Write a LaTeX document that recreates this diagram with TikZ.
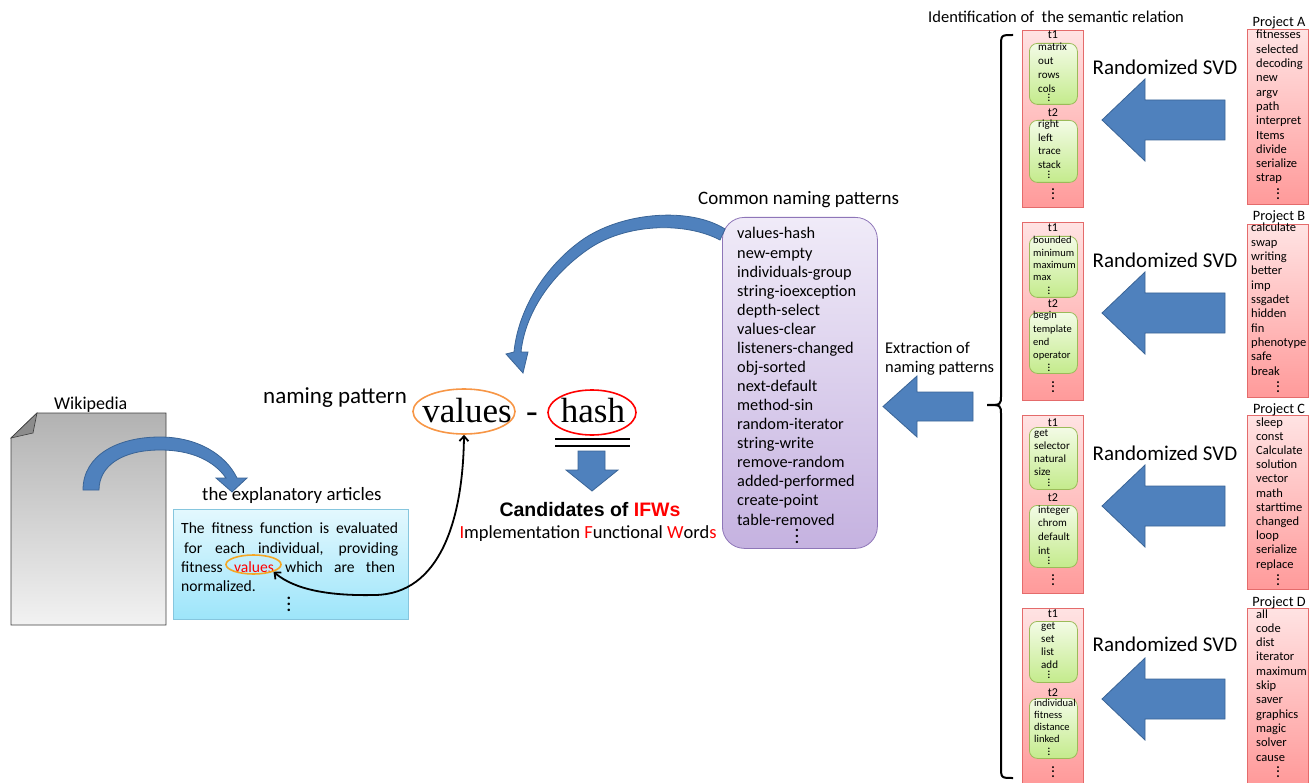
\documentclass[tikz,border=0pt]{standalone}
\usepackage{fontspec}
\setmainfont{Carlito}
\newfontfamily\serifbig{Liberation Serif}
\newfontfamily\candfont{Liberation Sans}
\usetikzlibrary{arrows.meta,shapes.geometric}
\newcommand{\setfs}[1]{\fontsize{#1}{#1}\selectfont}
\newcommand{\vdt}[1]{\vbox{\baselineskip=#1pt\lineskiplimit=-10pt\lineskip=0pt\hbox{.}\hbox{.}\hbox{.}}}
\definecolor{arrblue}{HTML}{4F81BD}
\definecolor{arrbord}{HTML}{3A6496}
\definecolor{redtop}{HTML}{FFE3E3}
\definecolor{redbot}{HTML}{FF9A9A}
\definecolor{redbord}{HTML}{E46B6B}
\definecolor{grntop}{HTML}{F3FBE6}
\definecolor{grnbot}{HTML}{C4EB8C}
\definecolor{grnbord}{HTML}{9BBB59}
\definecolor{purtop}{HTML}{F0EBF8}
\definecolor{purbot}{HTML}{C5B2E0}
\definecolor{purbord}{HTML}{8E76B8}
\definecolor{cyantop}{HTML}{E3F8FE}
\definecolor{cyanbot}{HTML}{9DE5FA}
\definecolor{cyanbord}{HTML}{86C6DE}
\definecolor{doctop}{HTML}{B2B2B2}
\definecolor{docbot}{HTML}{F2F2F2}
\definecolor{valorange}{HTML}{F79646}
\definecolor{goldor}{HTML}{F5A623}
\tikzset{
  txt/.style={inner sep=0pt, anchor=base west},
  ctxt/.style={inner sep=0pt, anchor=base},
  redbox/.style={draw=redbord, line width=0.8pt, top color=redtop, bottom color=redbot, inner sep=0pt, anchor=north west},
  grnbox/.style={draw=grnbord, line width=0.8pt, top color=grntop, bottom color=grnbot, rounded corners=8pt, inner sep=0pt, anchor=north west},
  bluearr/.style={fill=arrblue, draw=arrbord, line width=0.8pt},
  pw/.style={txt, font=\setfs{12.5}},
  tw/.style={txt, font=\setfs{11}},
  tws/.style={txt, font=\setfs{10.5}},
  tlab/.style={ctxt, font=\setfs{12}},
  sdots/.style={inner sep=0pt, font=\setfs{10}\bfseries},
  cdots/.style={inner sep=0pt, font=\setfs{13}\bfseries},
}
\begin{document}
\begin{tikzpicture}[x=1pt,y=-1pt]
\useasboundingbox (0,0) rectangle (1313,783);

% ---------------- Wikipedia document ----------------
\shade[top color=doctop, bottom color=docbot, draw=black!75, line width=0.8pt]
  (37,413) -- (166,413) -- (166,625) -- (11,625) -- (11,438) -- cycle;
\filldraw[fill=black!45, draw=black!75, line width=0.6pt] (11,438) -- (37,413) -- (33,433) -- cycle;
\node[txt, font=\setfs{18}] (wiki) at (54,409) {Wikipedia};
% blue curved arrow from Wikipedia to the articles
\filldraw[bluearr] (83,490) .. controls (83,455) and (118,437) .. (160,437)
  .. controls (198,437) and (226,455) .. (237,478) -- (247,478) -- (232,492) -- (216,478) -- (226,478)
  .. controls (214,461) and (192,450) .. (160,450)
  .. controls (122,450) and (99,466) .. (99,490) -- cycle;

% ---------------- explanatory articles ----------------
\node[txt, font=\setfs{18.8}] (explab) at (202,500) {the explanatory articles};
\node[draw=cyanbord, line width=0.8pt, top color=cyantop, bottom color=cyanbot, inner sep=0pt,
  anchor=north west, minimum width=235pt, minimum height=110pt] (expbox) at (173,509) {};
\node[txt, font=\setfs{15.6}] (el1) at (181,533) {\makebox[217pt][s]{The fitness function is evaluated}};
\node[txt, font=\setfs{15.6}] (el2) at (184,553) {\makebox[214pt][s]{for each individual, providing}};
\node[txt, font=\setfs{15.6}] (el3) at (181,572) {\makebox[214pt][s]{fitness \textcolor{red}{values} which are then}};
\node[txt, font=\setfs{15.6}] (el4) at (181,591) {normalized.};
\node[inner sep=0pt, font=\setfs{17}\bfseries] (edots) at (289,604) {\vdt{6}};
\node[ellipse, draw=goldor, line width=1.6pt, minimum width=55pt, minimum height=19pt, inner sep=0pt] (valw) at (253.5,564.5) {};

% ---------------- naming pattern ----------------
\node[txt, font=\setfs{23}] (nplab) at (263,403) {naming pattern};
\node[ellipse, draw=valorange, line width=1.6pt, minimum width=102pt, minimum height=45pt, inner sep=0pt] (valsE) at (464,411.5) {};
\node[ctxt, font=\serifbig\setfs{35}] (vals) at (467,422) {values};
\node[ctxt, font=\serifbig\setfs{35}] (dash) at (532,422) {-};
\node[ellipse, draw=red, line width=1.6pt, minimum width=88pt, minimum height=45pt, inner sep=0pt] (hashE) at (592,412.5) {};
\node[ctxt, font=\serifbig\setfs{35}] (hash) at (593,422) {hash};
\draw[line width=2pt] (555,439) -- (630,439);
\draw[line width=2pt] (555,446) -- (630,446);
\filldraw[bluearr] (578,451) -- (605,451) -- (605,470) -- (618,470) -- (592,491) -- (566,470) -- (578,470) -- cycle;
\node[ctxt, font=\candfont\bfseries\setfs{19.5}] (cand) at (590,516) {Candidates of \textcolor{red}{IFWs}};
\node[ctxt, font=\setfs{18.5}] (ifw) at (588,538) {\textcolor{red}{I}mplementation \textcolor{red}{F}unctional \textcolor{red}{W}ord\textcolor{red}{s}};

% black double-headed curve between values occurrences
\draw[line width=1.8pt, {Straight Barb[length=5pt,width=9pt]}-{Straight Barb[length=5pt,width=9pt]}]
  (valsE.south) .. controls (463,520) and (440,594) .. (375,595)
  .. controls (330,596) and (295,590) .. (valw.south east);

% ---------------- common naming patterns ----------------
\node[txt, font=\setfs{19}] (cnp) at (698,205) {Common naming patterns};
\node[draw=purbord, line width=0.8pt, top color=purtop, bottom color=purbot, rounded corners=22pt,
  inner sep=0pt, anchor=north west, minimum width=155pt, minimum height=331pt] (pat) at (722,217) {};
\foreach \w [count=\i from 0] in {values-hash,new-empty,individuals-group,string-ioexception,depth-select,values-clear,listeners-changed,obj-sorted,next-default,method-sin,random-iterator,string-write,remove-random,added-performed,create-point,table-removed}
  \node[txt, font=\setfs{16.3}] (pl\i) at (737,239+19.07*\i) {\w};
\node[inner sep=0pt, font=\setfs{16}\bfseries] (pdots) at (797,536) {\vdt{6}};

% blue curved arrow from the pattern list to values
\filldraw[bluearr] (725,229) .. controls (690,207) and (625,212) .. (585,238)
  .. controls (545,265) and (518,310) .. (514,352) -- (506,354) -- (523,373) -- (528,352) -- (521,352)
  .. controls (525,314) and (550,275) .. (590,248)
  .. controls (628,223) and (686,222) .. (720,240) -- cycle;

% ---------------- extraction ----------------
\node[txt, font=\setfs{16.4}] (ex1) at (885,353) {Extraction of};
\node[txt, font=\setfs{16.4}] (ex2) at (885,372) {naming patterns};
\filldraw[bluearr] (883,406.5) -- (917,376) -- (917,392) -- (973,392) -- (973,421) -- (917,421) -- (917,437) -- cycle;

% brace
\draw[line width=2pt] (1013,35) .. controls (1001,35) .. (1001,47) -- (1001,395)
  .. controls (1001,405) .. (987,405) .. controls (1001,405) .. (1001,415) -- (1001,766)
  .. controls (1001,778) .. (1013,778);
\node[txt, font=\setfs{16.5}] (ident) at (928,23) {Identification of \ the semantic relation};

% ---------------- topic columns ----------------
\node[redbox, minimum width=61pt, minimum height=177pt] (colA) at (1022,30) {};
\node[redbox, minimum width=61pt, minimum height=178pt] (colB) at (1022,222) {};
\node[redbox, minimum width=61pt, minimum height=178pt] (colC) at (1022,415) {};
\node[redbox, minimum width=61pt, minimum height=175pt] (colD) at (1022,608) {};

% column A
\node[tlab] (tA1) at (1053,39) {t1};
\node[grnbox, minimum width=48pt, minimum height=61pt] (gA1) at (1029,43) {};
\foreach \w [count=\i from 0] in {matrix,out,rows,cols} \node[tw] (wA1\i) at (1038,51+13.7*\i) {\w};
\node[sdots] (dA1) at (1049,98) {\vdt{3}};
\node[tlab] (tA2) at (1053,117) {t2};
\node[grnbox, minimum width=48pt, minimum height=62pt] (gA2) at (1029,120) {};
\foreach \w [count=\i from 0] in {right,left,trace,stack} \node[tw] (wA2\i) at (1038,128+13.4*\i) {\w};
\node[sdots] (dA2) at (1049,175) {\vdt{3}};
\node[cdots] (dA) at (1053,194) {\vdt{4.5}};

% column B
\node[tlab] (tB1) at (1053,232) {t1};
\node[grnbox, minimum width=48pt, minimum height=61pt] (gB1) at (1029,236) {};
\foreach \w [count=\i from 0] in {bounded,minimum,maximum,max} \node[tws] (wB1\i) at (1033,244+12.3*\i) {\w};
\node[sdots] (dB1) at (1049,291) {\vdt{3}};
\node[tlab] (tB2) at (1053,308) {t2};
\node[grnbox, minimum width=48pt, minimum height=61pt] (gB2) at (1029,312) {};
\foreach \w [count=\i from 0] in {begin,template,end,operator} \node[tws] (wB2\i) at (1033,319+13*\i) {\w};
\node[sdots] (dB2) at (1049,368) {\vdt{3}};
\node[cdots] (dB) at (1053,387) {\vdt{4.5}};

% column C
\node[tlab] (tC1) at (1053,426) {t1};
\node[grnbox, minimum width=48pt, minimum height=62pt] (gC1) at (1029,427) {};
\foreach \w [count=\i from 0] in {get,selector,natural,size} \node[tw] (wC1\i) at (1034,436+13.3*\i) {\w};
\node[sdots] (dC1) at (1049,483) {\vdt{3}};
\node[tlab] (tC2) at (1053,501) {t2};
\node[grnbox, minimum width=48pt, minimum height=62pt] (gC2) at (1029,505) {};
\foreach \w [count=\i from 0] in {integer,chrom,default,int} \node[tw] (wC2\i) at (1038,513+13.7*\i) {\w};
\node[sdots] (dC2) at (1049,561) {\vdt{3}};
\node[cdots] (dC) at (1053,580) {\vdt{4.5}};

% column D
\node[tlab] (tD1) at (1053,617) {t1};
\node[grnbox, minimum width=48pt, minimum height=61pt] (gD1) at (1029,621) {};
\foreach \w [count=\i from 0] in {get,set,list,add} \node[tw] (wD1\i) at (1041,629+13.3*\i) {\w};
\node[sdots] (dD1) at (1049,675) {\vdt{3}};
\node[tlab] (tD2) at (1053,696) {t2};
\node[grnbox, minimum width=48pt, minimum height=60pt] (gD2) at (1029,698) {};
\foreach \w [count=\i from 0] in {individual,fitness,distance,linked} \node[tws] (wD2\i) at (1034,706+12.3*\i) {\w};
\node[sdots] (dD2) at (1049,752) {\vdt{3}};
\node[cdots] (dD) at (1053,772) {\vdt{4.5}};

% ---------------- projects ----------------
\node[redbox, minimum width=61pt, minimum height=175pt] (prA) at (1247,29) {};
\node[redbox, minimum width=61pt, minimum height=173pt] (prB) at (1247,224) {};
\node[redbox, minimum width=61pt, minimum height=174pt] (prC) at (1247,415) {};
\node[redbox, minimum width=61pt, minimum height=175pt] (prD) at (1247,608) {};
\node[ctxt, font=\setfs{14.3}] (plA) at (1279,27) {Project A};
\node[ctxt, font=\setfs{14.3}] (plB) at (1279,221) {Project B};
\node[ctxt, font=\setfs{14.3}] (plC) at (1279,413) {Project C};
\node[ctxt, font=\setfs{14.3}] (plD) at (1279,606) {Project D};
\foreach \w [count=\i from 0] in {fitnesses,selected,decoding,new,argv,path,interpret,Items,divide,serialize,strap}
  \node[pw] (pA\i) at (1256,39+14.3*\i) {\w};
\foreach \w [count=\i from 0] in {calculate,swap,writing,better,imp,ssgadet,hidden,fin,phenotype,safe,break}
  \node[pw] (pB\i) at (1251,232+14.3*\i) {\w};
\foreach \w [count=\i from 0] in {sleep,const,Calculate,solution,vector,math,starttime,changed,loop,serialize,replace}
  \node[pw] (pC\i) at (1256,426+14.2*\i) {\w};
\foreach \w [count=\i from 0] in {all,code,dist,iterator,maximum,skip,saver,graphics,magic,solver,cause}
  \node[pw] (pD\i) at (1256,618+14.3*\i) {\w};
\node[cdots] (dpA) at (1278,194) {\vdt{4.5}};
\node[cdots] (dpB) at (1278,387) {\vdt{4.5}};
\node[cdots] (dpC) at (1278,580) {\vdt{4.5}};
\node[cdots] (dpD) at (1278,772) {\vdt{4.5}};

% Randomized SVD arrows
\foreach \cy/\ly [count=\k] in {120/67, 313/260, 506/453, 699/644} {
  \node[inner sep=0pt, font=\setfs{21}] (svd\k) at (1165,\ly) {Randomized SVD};
  \filldraw[bluearr] (1102,\cy) -- (1145,\cy-41) -- (1145,\cy-20) -- (1225,\cy-20) -- (1225,\cy+20)
    -- (1145,\cy+20) -- (1145,\cy+41) -- cycle;
}
\end{tikzpicture}
\end{document}
